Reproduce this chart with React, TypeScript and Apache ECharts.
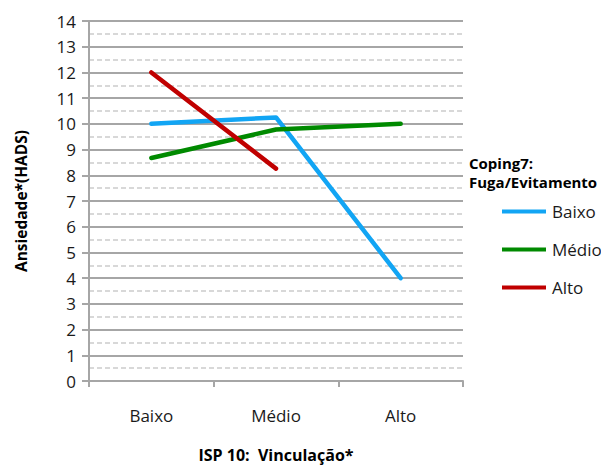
import React, { useEffect, useRef } from "react";
import * as echarts from "echarts";

const categories = ["Baixo", "Médio", "Alto"];
const seriesNames = ["Baixo", "Médio", "Alto"];
const baixoValues = [10.0, 10.25, 4.0];
const medioValues = [8.67, 9.78, 10.0];
const altoValues = [12.0, 8.26, null];
const seriesColors = ["#12a5f4", "#008a00", "#c00000"];

const FONT = "'Open Sans', sans-serif";

export default function App() {
  const ref = useRef<HTMLDivElement>(null);

  useEffect(() => {
    if (!ref.current) return;
    const chart = echarts.init(ref.current, null, { renderer: "svg" });
    const values = [baixoValues, medioValues, altoValues];
    chart.setOption({
      animation: false,
      backgroundColor: "#ffffff",
      textStyle: { fontFamily: FONT },
      grid: { left: 89, right: 138, top: 21, bottom: 81 },
      xAxis: {
        type: "category",
        data: categories,
        boundaryGap: true,
        axisLine: { lineStyle: { color: "#a6a6a6", width: 2 } },
        axisTick: { show: true, length: 6, lineStyle: { color: "#a6a6a6", width: 2 } },
        axisLabel: { color: "#1a1a1a", fontSize: 17, margin: 26, fontFamily: FONT },
        name: "ISP 10:  Vinculação*",
        nameLocation: "middle",
        nameGap: 66,
        nameTextStyle: { color: "#000", fontSize: 16, fontWeight: "bold", fontFamily: FONT },
      },
      yAxis: {
        type: "value",
        min: 0,
        max: 14,
        interval: 1,
        axisLine: { show: true, lineStyle: { color: "#a6a6a6", width: 2 } },
        axisTick: { show: true, length: 7, lineStyle: { color: "#a6a6a6", width: 2 } },
        axisLabel: { color: "#1a1a1a", fontSize: 17, margin: 13, fontFamily: FONT },
        splitLine: { show: true, lineStyle: { color: "#a6a6a6", width: 2 } },
        minorTick: { show: false, splitNumber: 2 },
        minorSplitLine: { show: true, lineStyle: { color: "#cccccc", width: 1.5, type: [5, 3] } },
        name: "Ansiedade*(HADS)",
        nameLocation: "middle",
        nameGap: 60,
        nameRotate: 90,
        nameTextStyle: { color: "#000", fontSize: 15.5, fontWeight: "bold", fontFamily: FONT },
      },
      legend: {
        orient: "vertical",
        left: 497,
        top: 198,
        itemGap: 21,
        icon: "rect",
        itemWidth: 44,
        itemHeight: 4,
        textStyle: { color: "#1a1a1a", fontSize: 17, fontFamily: FONT, padding: [0, 0, 0, 1] },
        data: seriesNames,
      },
      graphic: [
        {
          type: "text",
          left: 469,
          top: 153,
          style: {
            text: "Coping7:\nFuga/Evitamento",
            fill: "#000",
            font: `bold 15px ${FONT}`,
            lineHeight: 19,
          },
        },
      ],
      series: seriesNames.map((name, i) => ({
        name,
        type: "line",
        data: values[i],
        symbol: "none",
        connectNulls: false,
        lineStyle: { color: seriesColors[i], width: 4.5, cap: "round", join: "round" },
        itemStyle: { color: seriesColors[i] },
      })),
    });
    return () => chart.dispose();
  }, []);

  return <div ref={ref} style={{ width: 601, height: 468, position: "absolute", left: 0, top: 0 }} />;
}
